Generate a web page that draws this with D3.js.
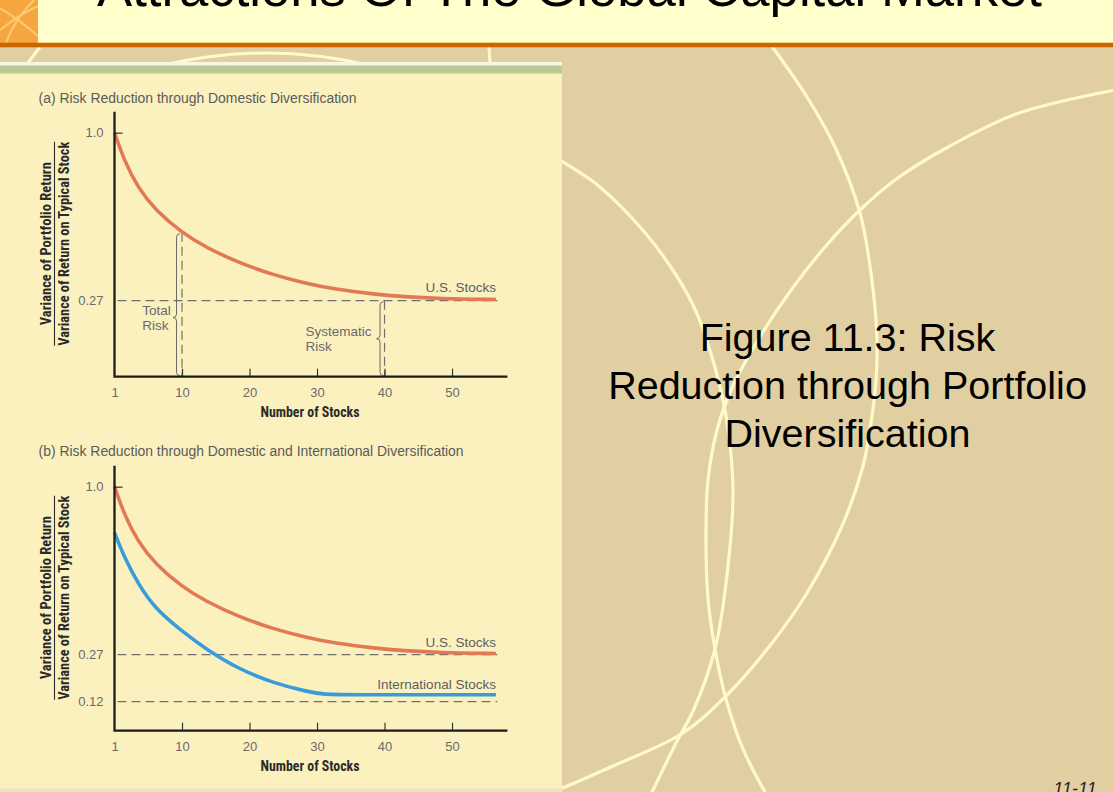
<!DOCTYPE html>
<html><head><meta charset="utf-8">
<script src="https://cdn.jsdelivr.net/npm/d3@7"></script>
<style>
html,body{margin:0;padding:0;background:#E2CFA1;overflow:hidden;}
svg{display:block;}
</style></head><body>
<svg id="c" width="1113" height="792"></svg>
<script>
// ---------------- data ----------------
const stockPos      = [0, 1.5, 3.5, 6, 10, 13.5, 18.5, 23.5, 28.5, 33, 38, 43, 48, 56.5];
const usVariance    = [1.0, 0.875, 0.76, 0.665, 0.565, 0.502, 0.434, 0.382, 0.344, 0.318, 0.30, 0.287, 0.279, 0.275];
const intlPos       = [0, 1.5, 3.5, 6, 10, 13.5, 18.5, 23.5, 28.5, 31, 33, 56.5];
const intlVariance  = [0.80, 0.69, 0.578, 0.47, 0.372, 0.295, 0.223, 0.18, 0.152, 0.144, 0.142, 0.142];
const xTickValues   = [0, 10, 20, 30, 40, 50];
const xTickLabels   = ["1", "10", "20", "30", "40", "50"];
const yTicksA       = [1.0, 0.27];
const yTickLabelsA  = ["1.0", "0.27"];
const yTicksB       = [1.0, 0.27, 0.12];
const yTickLabelsB  = ["1.0", "0.27", "0.12"];
const refLevelsA    = [0.27];
const refLevelsB    = [0.27, 0.12];
const panelTitles   = ["(a) Risk Reduction through Domestic Diversification",
                       "(b) Risk Reduction through Domestic and International Diversification"];
const yLabelTop     = "Variance of Portfolio Return";
const yLabelBottom  = "Variance of Return on Typical Stock";
const xLabel        = "Number of Stocks";
const seriesNames   = ["U.S. Stocks", "International Stocks"];
const annotStocks   = [10, 40];
const annotLines    = [["Total", "Risk"], ["Systematic", "Risk"]];
const slideTitle    = "Attractions Of The Global Capital Market";
const captionLines  = ["Figure 11.3: Risk", "Reduction through Portfolio", "Diversification"];
const pageNumber    = "11-11";

// ---------------- drawing ----------------
const svg = d3.select("#c");
const FONT = "'Liberation Sans', Arial, sans-serif";
const NARROW = "'Liberation Sans Narrow', 'Arial Narrow', 'Roboto Condensed', 'DejaVu Sans Condensed', sans-serif";

// slide background
svg.append("rect").attr("x",0).attr("y",0).attr("width",1113).attr("height",792).attr("fill","#E2CFA1");

// decorative arcs (slide template)
const arcs = [
  [[771,45],[807,97],[835,147],[860,213],[871,273],[877,340],[876,380],[872,416],[863,466],[842,526],[807,593],[772,643],[726,696],[683,733],[613,766],[560,789],[530,800]],
  [[540,148],[560,160],[595,183],[631,217],[666,260],[694,307],[712,357],[726,416],[733,490],[727,575],[715,649],[694,709],[676,743],[652,792],[645,805]],
  [[1120,89],[1019,113],[948,147],[895,180],[860,210],[825,247],[789,293],[758,340],[731,390],[717,430],[708,480],[706,530],[708,599],[715,649],[726,699],[743,749],[765,792],[770,800]]
];
const arcLine = d3.line().curve(d3.curveCatmullRom.alpha(0.5));
svg.append("g").selectAll("path").data(arcs).join("path")
  .attr("d", arcLine).attr("fill","none").attr("stroke","#FFFBC8").attr("stroke-width",3.2);
// small arc fragments above the figure
svg.append("path").attr("d","M40,47 L27,64").attr("stroke","#FFFBC8").attr("stroke-width",3).attr("fill","none");
svg.append("path").attr("d","M160,66 Q266,40 372,66").attr("stroke","#FFFBC8").attr("stroke-width",3).attr("fill","none");
svg.append("path").attr("d","M489,47 L490,64").attr("stroke","#FFFBC8").attr("stroke-width",3).attr("fill","none");

// header band
svg.append("rect").attr("x",0).attr("y",0).attr("width",1113).attr("height",43).attr("fill","#FFFFCC");
svg.append("rect").attr("x",0).attr("y",0).attr("width",38).attr("height",43).attr("fill","#F6A640");
svg.append("path").attr("d","M0,30 Q20,14 38,6 M6,43 Q14,20 34,0 M0,8 Q20,20 38,36")
  .attr("stroke","#FBCB73").attr("stroke-width",2).attr("fill","none");
svg.append("rect").attr("x",0).attr("y",42.7).attr("width",1113).attr("height",4.6).attr("fill","#CC6600");
svg.append("text").attr("x",569.5).attr("y",5.5).attr("text-anchor","middle")
  .attr("font-family",FONT).attr("font-size",52.7).attr("fill","#000").text(slideTitle);

// figure panel
svg.append("rect").attr("x",0).attr("y",62).attr("width",562).attr("height",730).attr("fill","#FBF1BF");
svg.append("rect").attr("x",0).attr("y",62).attr("width",562).attr("height",3.5).attr("fill","#F7F5E6");
svg.append("rect").attr("x",0).attr("y",65.5).attr("width",562).attr("height",8).attr("fill","#B8CB91");
svg.append("rect").attr("x",0).attr("y",788.5).attr("width",562).attr("height",4).attr("fill","#EFE3BC");

const x = d3.scaleLinear().domain([0, 58.2]).range([114.5, 507.4]);

const panels = [
  {bottom:376.7, title:panelTitles[0], titleY:102.7, titleLen:318, yTicks:yTicksA, yLabels:yTickLabelsA, refs:refLevelsA,
   series:[{pos:stockPos, val:usVariance, color:"#E27955", name:seriesNames[0], labelY:291.5}], annot:true},
  {bottom:730.7, title:panelTitles[1], titleY:456, titleLen:425, yTicks:yTicksB, yLabels:yTickLabelsB, refs:refLevelsB,
   series:[{pos:stockPos, val:usVariance, color:"#E27955", name:seriesNames[0], labelY:646.7},
           {pos:intlPos, val:intlVariance, color:"#3A9BDA", name:seriesNames[1], labelY:689.3}], annot:false}
];

panels.forEach(p => {
  const b = p.bottom;
  const y = d3.scaleLinear().domain([0, 0.12, 0.27, 1.0, 1.09]).range([b, b-29, b-76, b-244, b-265]);
  const g = svg.append("g");

  // title
  g.append("text").attr("x",38.6).attr("y",p.titleY).attr("font-family",FONT).attr("font-size",14)
    .attr("fill","#5a5a5a").attr("textLength",p.titleLen).attr("lengthAdjust","spacingAndGlyphs").text(p.title);

  // reference dashed lines
  g.selectAll("line.ref").data(p.refs).join("line").attr("class","ref")
    .attr("x1",x(0)+3).attr("x2",x(56.7)).attr("y1",d=>y(d)).attr("y2",d=>y(d))
    .attr("stroke","#707070").attr("stroke-width",1.3).attr("stroke-dasharray","9,5");

  const line = d3.line().x(d=>x(d[0])).y(d=>y(d[1])).curve(d3.curveBasis);

  // annotations (panel a)
  if (p.annot) {
    annotStocks.forEach((s,i) => {
      const topVal = i===0 ? usVariance[stockPos.indexOf(s)] : 0.27;
      const xx = x(s);
      g.append("line").attr("x1",xx).attr("x2",xx).attr("y1",y(topVal)).attr("y2",b)
        .attr("stroke","#707070").attr("stroke-width",1.2).attr("stroke-dasharray","9,5");
      const bx = xx - (i===0 ? 5.5 : 4.5);
      const yt = y(topVal)+1, yb = b-1;
      const ym = yt + (i===0 ? 0.59 : 0.5)*(yb-yt);
      const w = 3.5;
      const dPath = `M${bx+w},${yt} Q${bx},${yt} ${bx},${yt+w} L${bx},${ym-w} Q${bx},${ym} ${bx-w},${ym} Q${bx},${ym} ${bx},${ym+w} L${bx},${yb-w} Q${bx},${yb} ${bx+w},${yb}`;
      g.append("path").attr("d",dPath).attr("fill","none").attr("stroke","#6a6a6a").attr("stroke-width",1);
      const tx = i===0 ? xx-39.7 : xx-79;
      const t = g.append("text").attr("font-family",FONT).attr("font-size",13.5).attr("fill","#6a6a6a");
      annotLines[i].forEach((ln,k) => {
        t.append("tspan").attr("x",tx).attr("y",ym-2.5+k*15).text(ln);
      });
    });
  }

  // series
  p.series.forEach(s => {
    const pts = s.pos.map((v,i)=>[v, s.val[i]]);
    g.append("path").attr("d",line(pts)).attr("fill","none").attr("stroke",s.color)
      .attr("stroke-width",3.6).attr("stroke-linecap","butt");
    g.append("text").attr("x",x(d3.max(s.pos))).attr("y",s.labelY).attr("text-anchor","end")
      .attr("font-family",FONT).attr("font-size",13.5).attr("fill","#5e5e5e").text(s.name);
  });

  // x axis
  const xAxis = d3.axisBottom(x).tickValues(xTickValues).tickFormat((d,i)=>xTickLabels[i])
    .tickSizeInner(-8).tickSizeOuter(0).tickPadding(11.3);
  const gx = g.append("g").attr("transform",`translate(0,${b})`).call(xAxis);
  gx.select(".domain").remove();
  gx.selectAll(".tick line").attr("stroke","#333").attr("stroke-width",1.2).attr("display",d=>d===0?"none":null);
  gx.selectAll(".tick text").attr("font-family",FONT).attr("font-size",13).attr("fill","#6a6a6a");

  // y axis
  const yAxis = d3.axisLeft(y).tickValues(p.yTicks).tickFormat((d,i)=>p.yLabels[i])
    .tickSizeInner(-8).tickSizeOuter(0).tickPadding(11);
  const gy = g.append("g").attr("transform",`translate(${x(0)},0)`).call(yAxis);
  gy.select(".domain").remove();
  gy.selectAll(".tick line").attr("stroke","#333").attr("stroke-width",1.2).attr("display",d=>d===1.0?null:"none");
  gy.selectAll(".tick text").attr("font-family",FONT).attr("font-size",13).attr("fill","#6a6a6a");

  // axis lines
  g.append("path").attr("d",`M${x(0)},${y(1.09)} V${b} H${x(58.2)}`).attr("fill","none")
    .attr("stroke","#1c1c1c").attr("stroke-width",2.3);

  // x label
  g.append("text").attr("x",310).attr("y",b+40).attr("text-anchor","middle")
    .attr("font-family",NARROW).attr("font-weight","bold").attr("font-size",14).attr("fill","#2a2a2a")
    .attr("textLength",99).attr("lengthAdjust","spacingAndGlyphs").text(xLabel);

  // y label (fraction)
  const c = b - 133;
  g.append("text").attr("transform",`translate(51,${c}) rotate(-90)`).attr("text-anchor","middle")
    .attr("font-family",NARROW).attr("font-weight","bold").attr("font-size",14.5).attr("fill","#2a2a2a")
    .attr("textLength",163).attr("lengthAdjust","spacingAndGlyphs").text(yLabelTop);
  g.append("line").attr("x1",54.5).attr("x2",54.5).attr("y1",c-102).attr("y2",c+102)
    .attr("stroke","#2a2a2a").attr("stroke-width",1.1);
  g.append("text").attr("transform",`translate(69,${c}) rotate(-90)`).attr("text-anchor","middle")
    .attr("font-family",NARROW).attr("font-weight","bold").attr("font-size",14.5).attr("fill","#2a2a2a")
    .attr("textLength",204).attr("lengthAdjust","spacingAndGlyphs").text(yLabelBottom);
});

// caption on the right
const cap = svg.append("text").attr("text-anchor","middle").attr("font-family",FONT)
  .attr("font-size",39.5).attr("fill","#000");
captionLines.forEach((ln,i) => cap.append("tspan").attr("x",847.5).attr("y",351+i*48).text(ln));

// page number
svg.append("text").attr("x",1075).attr("y",795).attr("text-anchor","middle").attr("font-family",FONT)
  .attr("font-style","italic").attr("font-size",18).attr("fill","#222").text(pageNumber);
</script>
</body></html>
